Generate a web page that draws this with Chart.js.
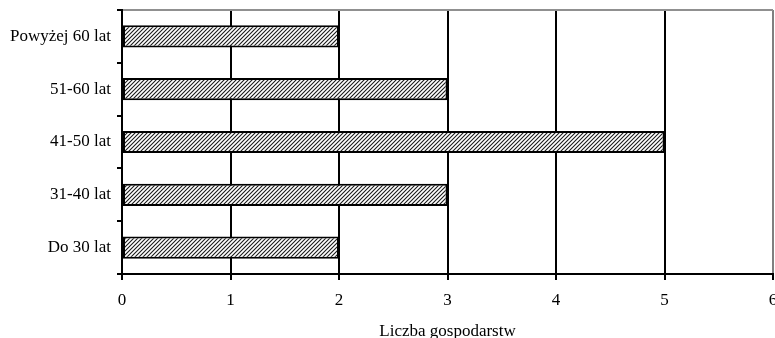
<!DOCTYPE html>
<html>
<head>
<meta charset="utf-8">
<script src="https://cdn.jsdelivr.net/npm/chart.js@4/dist/chart.umd.min.js"></script>
<style>
  html, body { margin: 0; padding: 0; background: #fff; overflow: hidden; }
  #wrap { width: 800px; height: 338px; overflow: hidden; }
</style>
</head>
<body>
<div id="wrap"><canvas id="c" width="800" height="342"></canvas></div>
<script>
// Age groups of farm owners, top to bottom
const categories = ['Powyżej 60 lat', '51-60 lat', '41-50 lat', '31-40 lat', 'Do 30 lat'];
// Number of farms in each group
const farmCounts = [2, 3, 5, 3, 2];
// Value axis range
const xTicks = [0, 1, 2, 3, 4, 5, 6];
const axisTitle = 'Liczba gospodarstw';

// Diagonal hatch fill for the bars
function makeHatch() {
  const t = document.createElement('canvas');
  t.width = 4; t.height = 4;
  const g = t.getContext('2d');
  g.fillStyle = '#ffffff';
  g.fillRect(0, 0, 4, 4);
  g.strokeStyle = '#1a1a1a';
  g.lineWidth = 1.1;
  g.beginPath();
  g.moveTo(-1, 5); g.lineTo(5, -1);
  g.moveTo(-1, 1); g.lineTo(1, -1);
  g.moveTo(3, 5); g.lineTo(5, 3);
  g.stroke();
  return g.createPattern(t, 'repeat');
}

const serif = "'Liberation Serif', 'Times New Roman', serif";
Chart.defaults.font.family = serif;
Chart.defaults.color = '#000';

new Chart(document.getElementById('c'), {
  type: 'bar',
  data: {
    labels: categories,
    datasets: [{
      data: farmCounts,
      backgroundColor: makeHatch(),
      borderColor: '#000',
      borderWidth: 2,
      borderSkipped: false,
      barPercentage: 0.42,
      categoryPercentage: 1.0
    }]
  },
  options: {
    indexAxis: 'y',
    responsive: false,
    animation: false,
    devicePixelRatio: 1,
    layout: { padding: { top: 10, right: 27, left: 0, bottom: 0 } },
    plugins: { legend: { display: false }, tooltip: { enabled: false } },
    scales: {
      x: {
        min: xTicks[0],
        max: xTicks[xTicks.length - 1],
        afterBuildTicks: (s) => { s.ticks = xTicks.map(v => ({ value: v })); },
        afterFit: (s) => { s.height = 68; },
        ticks: { font: { size: 17 }, padding: 10, color: '#000' },
        grid: {
          color: (ctx) => (ctx.tick && ctx.tick.value === 6) ? '#808080' : '#000',
          lineWidth: 2,
          tickLength: 6,
          tickColor: '#000',
          drawOnChartArea: true
        },
        border: { color: '#000', width: 2 },
        title: {
          display: true,
          text: axisTitle,
          font: { size: 17 },
          color: '#000',
          padding: { top: 4, bottom: 0 }
        }
      },
      y: {
        afterFit: (s) => { s.width = 122; s.paddingTop = 0; s.paddingBottom = 0; },
        ticks: { font: { size: 17 }, padding: 6, color: '#000' },
        grid: {
          offset: true,
          color: (ctx) => ctx.index === 0 ? '#909090' : 'rgba(0,0,0,0)',
          lineWidth: 2,
          tickLength: 5,
          tickColor: '#000'
        },
        border: { color: '#000', width: 2 }
      }
    }
  }
});
</script>
</body>
</html>
